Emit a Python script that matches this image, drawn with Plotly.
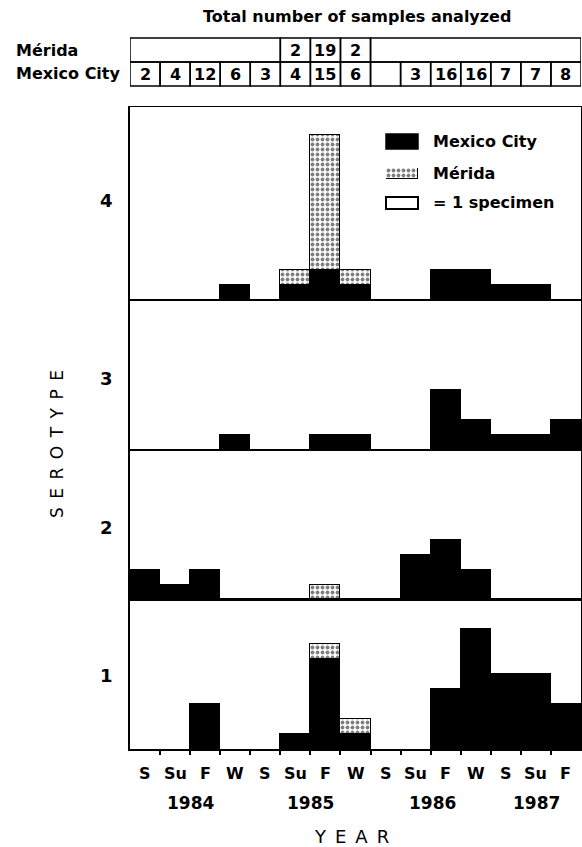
import plotly.graph_objects as go

# ---------------- data ----------------
seasons = ["S", "Su", "F", "W", "S", "Su", "F", "W", "S", "Su", "F", "W", "S", "Su", "F"]
years = ["1984", "1985", "1986", "1987"]
serotypes = ["4", "3", "2", "1"]

samples_merida = [None, None, None, None, None, 2, 19, 2, None, None, None, None, None, None, None]
samples_mexico = [2, 4, 12, 6, 3, 4, 15, 6, None, 3, 16, 16, 7, 7, 8]

mexico_sero4 = [0, 0, 0, 1, 0, 1, 2, 1, 0, 0, 2, 2, 1, 1, 0]
merida_sero4 = [0, 0, 0, 0, 0, 1, 9, 1, 0, 0, 0, 0, 0, 0, 0]
mexico_sero3 = [0, 0, 0, 1, 0, 0, 1, 1, 0, 0, 4, 2, 1, 1, 2]
merida_sero3 = [0, 0, 0, 0, 0, 0, 0, 0, 0, 0, 0, 0, 0, 0, 0]
mexico_sero2 = [2, 1, 2, 0, 0, 0, 0, 0, 0, 3, 4, 2, 0, 0, 0]
merida_sero2 = [0, 0, 0, 0, 0, 0, 1, 0, 0, 0, 0, 0, 0, 0, 0]
mexico_sero1 = [0, 0, 3, 0, 0, 1, 6, 1, 0, 0, 4, 8, 5, 5, 3]
merida_sero1 = [0, 0, 0, 0, 0, 0, 1, 1, 0, 0, 0, 0, 0, 0, 0]

# ---------------- layout helpers ----------------
W, H = 582, 847
FONT = "DejaVu Sans"
X0, X1 = 130, 581            # plot left / right in px
UNIT = 15.0                  # px per specimen
DOTS = dict(shape=".", fgcolor="black", bgcolor="white", size=5, solidity=0.45)


def px(xp):
    return xp / W


def py(yp):
    return 1 - yp / H


def b(t):
    return f"<b>{t}</b>"


panels = [  # (top px, bottom px)
    (107, 300),
    (300, 450),
    (450, 600),
    (600, 749),
]
mexico_all = [mexico_sero4, mexico_sero3, mexico_sero2, mexico_sero1]
merida_all = [merida_sero4, merida_sero3, merida_sero2, merida_sero1]

xs = list(range(len(seasons)))
fig = go.Figure()

for i, (top, bot) in enumerate(panels):
    n = i + 1
    xa = "x" if n == 1 else f"x{n}"
    ya = "y" if n == 1 else f"y{n}"
    mc = [v if v else None for v in mexico_all[i]]
    me = [v if v else None for v in merida_all[i]]
    fig.add_trace(go.Bar(
        x=xs, y=mc, xaxis=xa, yaxis=ya, width=1.0,
        marker=dict(color="black", line=dict(color="black", width=1)),
        showlegend=False, hoverinfo="skip"))
    fig.add_trace(go.Bar(
        x=xs, y=me, xaxis=xa, yaxis=ya, width=1.0,
        marker=dict(color="white", line=dict(color="black", width=1.5), pattern=DOTS),
        showlegend=False, hoverinfo="skip"))

layout = dict(
    width=W, height=H, barmode="stack", bargap=0,
    margin=dict(l=0, r=0, t=0, b=0),
    paper_bgcolor="white", plot_bgcolor="white",
    font=dict(family=FONT, color="black", size=16),
    showlegend=False,
)

for i, (top, bot) in enumerate(panels):
    n = i + 1
    xkey = "xaxis" if n == 1 else f"xaxis{n}"
    ykey = "yaxis" if n == 1 else f"yaxis{n}"
    ya = "y" if n == 1 else f"y{n}"
    xax = dict(domain=[px(X0), px(X1)], range=[-0.5, len(seasons) - 0.5],
               anchor=ya, showline=True, mirror=True, linecolor="black",
               linewidth=1, showgrid=False, zeroline=False,
               showticklabels=False, ticks="", fixedrange=True)
    if n != 1:
        xax["matches"] = "x"
    if i == len(panels) - 1:
        xax["tickmode"] = "array"
        xax["tickvals"] = [k + 0.5 for k in range(len(seasons) - 1)]
        xax["ticks"] = "outside"
        xax["ticklen"] = 4
        xax["tickwidth"] = 1.5
        xax["tickcolor"] = "black"
        xax["linewidth"] = 1.5
    layout[xkey] = xax
    layout[ykey] = dict(domain=[py(bot), py(top)], range=[0, (bot - top) / UNIT],
                        anchor="x" if n == 1 else f"x{n}",
                        showline=True, mirror=True, linecolor="black",
                        linewidth=1.5, showgrid=False, zeroline=False,
                        showticklabels=False, ticks="", fixedrange=True)

fig.update_layout(**layout)

shapes = []
annots = []

# ---- table of sample counts ----
ROW_ME = (38, 62)
ROW_MC = (62, 86)
line = dict(color="black", width=1.5)

first = next(k for k, v in enumerate(samples_merida) if v is not None)
last = max(k for k, v in enumerate(samples_merida) if v is not None)
shapes.append(dict(type="rect", xref="x", yref="paper", x0=-0.5, x1=first - 0.5,
                   y0=py(ROW_ME[1]), y1=py(ROW_ME[0]), line=line))
shapes.append(dict(type="rect", xref="x", yref="paper", x0=last + 0.5, x1=len(seasons) - 0.5,
                   y0=py(ROW_ME[1]), y1=py(ROW_ME[0]), line=line))
for k in range(first, last + 1):
    shapes.append(dict(type="rect", xref="x", yref="paper", x0=k - 0.5, x1=k + 0.5,
                       y0=py(ROW_ME[1]), y1=py(ROW_ME[0]), line=line))
    annots.append(dict(x=k, y=py((ROW_ME[0] + ROW_ME[1]) / 2 + 1), xref="x", yref="paper",
                       text=b(samples_merida[k]), showarrow=False,
                       font=dict(size=16), xanchor="center", yanchor="middle"))
for k, v in enumerate(samples_mexico):
    shapes.append(dict(type="rect", xref="x", yref="paper", x0=k - 0.5, x1=k + 0.5,
                       y0=py(ROW_MC[1]), y1=py(ROW_MC[0]), line=line))
    if v is not None:
        annots.append(dict(x=k, y=py((ROW_MC[0] + ROW_MC[1]) / 2 + 1), xref="x", yref="paper",
                           text=b(v), showarrow=False, font=dict(size=16),
                           xanchor="center", yanchor="middle"))

annots.append(dict(x=px(357), y=py(17), xref="paper", yref="paper",
                   text=b("Total number of samples analyzed"), showarrow=False,
                   font=dict(size=16), xanchor="center", yanchor="middle"))
annots.append(dict(x=px(14), y=py(50), xref="paper", yref="paper", text=b("Mérida"),
                   showarrow=False, font=dict(size=16), xanchor="left", yanchor="middle"))
annots.append(dict(x=px(14), y=py(74), xref="paper", yref="paper", text=b("Mexico City"),
                   showarrow=False, font=dict(size=16), xanchor="left", yanchor="middle"))

# ---- legend (drawn inside serotype-4 panel) ----
shapes.append(dict(type="rect", xref="paper", yref="paper", x0=px(386), x1=px(418),
                   y0=py(149), y1=py(134), fillcolor="black", line=dict(color="black", width=1.5)))
shapes.append(dict(type="rect", xref="paper", yref="paper", x0=px(386), x1=px(418),
                   y0=py(209), y1=py(197), fillcolor="white", line=dict(color="black", width=2)))
legend_items = [("Mexico City", 142), ("Mérida", 173), ("= 1 specimen", 203)]
for txt, yy in legend_items:
    annots.append(dict(x=px(431), y=py(yy), xref="paper", yref="paper", text=b(txt),
                       showarrow=False, font=dict(size=16), xanchor="left", yanchor="middle"))

# dotted legend swatch: a patterned bar on a hidden overlay axis
fig.add_trace(go.Bar(
    x=[0.5], y=[1], width=[1], xaxis="x5", yaxis="y5",
    marker=dict(color="white", line=dict(color="black", width=1.5), pattern=DOTS),
    showlegend=False, hoverinfo="skip"))
fig.update_layout(
    xaxis5=dict(domain=[px(386), px(418)], range=[0, 1], anchor="y5", visible=False, fixedrange=True),
    yaxis5=dict(domain=[py(179), py(168)], range=[0, 1], anchor="x5", visible=False, fixedrange=True),
)

# ---- serotype labels ----
label_y = [200, 379, 527, 675]
for lab, yy in zip(serotypes, label_y):
    annots.append(dict(x=px(106), y=py(yy), xref="paper", yref="paper",
                       text=b(lab), showarrow=False, font=dict(size=18),
                       xanchor="center", yanchor="middle"))
annots.append(dict(x=px(57), y=py(444), xref="paper", yref="paper",
                   text="\u2002".join("SEROTYPE"), showarrow=False, textangle=-90,
                   font=dict(size=17), xanchor="center", yanchor="middle"))

# ---- season and year labels ----
for k, s in enumerate(seasons):
    annots.append(dict(x=k, y=py(773), xref="x4", yref="paper", text=b(s), showarrow=False,
                       font=dict(size=16), xanchor="center", yanchor="middle"))
year_x = [1.5, 5.5, 9.55, 13.03]
for yr, xx in zip(years, year_x):
    annots.append(dict(x=xx, y=py(803), xref="x4", yref="paper", text=b(yr),
                       showarrow=False, font=dict(size=17), xanchor="center", yanchor="middle"))
annots.append(dict(x=px(351), y=py(836), xref="paper", yref="paper",
                   text="\u2002".join("YEAR"), showarrow=False, font=dict(size=18),
                   xanchor="center", yanchor="middle"))

fig.update_layout(shapes=shapes, annotations=annots)
fig.write_html("out.html", config={"displayModeBar": False},
               post_script="document.body.style.margin='0px';")
